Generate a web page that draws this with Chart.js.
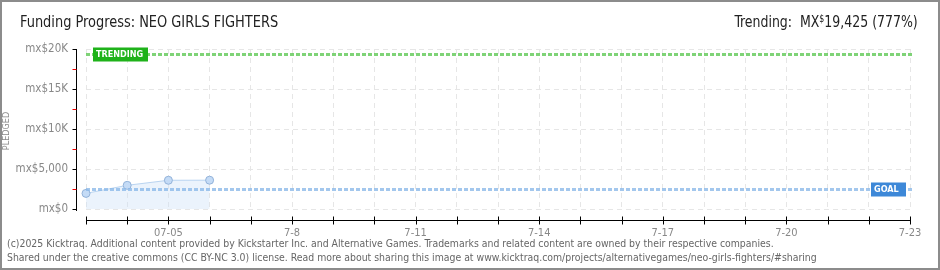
<!DOCTYPE html>
<html>
<head>
<meta charset="utf-8">
<script src="https://cdn.jsdelivr.net/npm/chart.js@4"></script>
<style>
  html, body { margin: 0; padding: 0; background: #fff; }
  #wrap { position: relative; width: 940px; height: 270px; }
  #title { position: absolute; left: 20px; top: 12px; font: 16px 'DejaVu Sans Condensed', 'DejaVu Sans', sans-serif; font-stretch: condensed; color: #222; white-space: nowrap; transform: scaleX(0.9); transform-origin: left top; }
  #trend { position: absolute; right: 22px; top: 12px; font: 16px 'DejaVu Sans Condensed', 'DejaVu Sans', sans-serif; font-stretch: condensed; color: #222; white-space: nowrap; transform: scaleX(0.87); transform-origin: right top; }
  #trend sup { font-size: 10px; vertical-align: 5px; }
  #foot { position: absolute; left: 7px; top: 236px; font: 10.4px 'DejaVu Sans Condensed', 'DejaVu Sans', sans-serif; font-stretch: condensed; color: #666; line-height: 14px; white-space: nowrap; }
</style>
</head>
<body>
<div id="wrap">
  <canvas id="myChart"></canvas>
  <div id="title">Funding Progress: NEO GIRLS FIGHTERS</div>
  <div id="trend">Trending:&nbsp; MX<sup>$</sup>19,425 (777%)</div>
  <div id="foot">(c)2025 Kicktraq. Additional content provided by Kickstarter Inc. and Alternative Games. Trademarks and related content are owned by their respective companies.<br>Shared under the creative commons (CC BY-NC 3.0) license. Read more about sharing this image at www.kicktraq.com/projects/alternativegames/neo-girls-fighters/#sharing</div>
</div>
<script>
// days shown on the x axis (7/3 .. 7/23)
const days = ['07-03', '07-04', '07-05', '07-06', '07-07', '07-08', '07-09', '07-10', '07-11', '07-12', '07-13',
  '07-14', '07-15', '07-16', '07-17', '07-18', '07-19', '07-20', '07-21', '07-22', '07-23'];
const dayLabels = ['', '', '07-05', '', '', '7-8', '', '', '7-11', '', '', '7-14', '', '', '7-17', '', '', '7-20', '', '', '7-23'];
const pledged = [1950, 2960, 3590, 3600];
const yTicks = [0, 5000, 10000, 15000, 20000];
const yTickLabels = ['mx$0', 'mx$5,000', 'mx$10K', 'mx$15K', 'mx$20K'];
const goal = 2500;
const trending = 19425;

const pixelFont = "'DejaVu Sans Condensed', 'DejaVu Sans', sans-serif";

const extras = {
  id: 'extras',
  beforeDraw(chart) {
    const c = chart.ctx;
    c.save();
    c.fillStyle = '#fff';
    c.fillRect(0, 0, chart.width, chart.height);
    c.restore();
  },
  afterDatasetsDraw(chart) {
    const c = chart.ctx;
    const a = chart.chartArea;
    const x = chart.scales.x, y = chart.scales.y;
    c.save();

    // reference lines
    function refLine(val, color) {
      const py = Math.round(y.getPixelForValue(val)) + 0.5;
      c.strokeStyle = color;
      c.lineWidth = 3;
      c.setLineDash([4, 2]);
      c.beginPath();
      c.moveTo(a.left, py);
      c.lineTo(a.right + 3, py);
      c.stroke();
      c.setLineDash([]);
      return py;
    }
    function tag(text, bx, py, w, color) {
      c.fillStyle = color;
      c.fillRect(bx, py - 7, w, 14);
      c.fillStyle = '#fff';
      c.font = 'bold 9px ' + pixelFont;
      c.textBaseline = 'middle';
      c.textAlign = 'left';
      c.fillText(text, bx + 3, py + 0.5);
    }
    const ty = refLine(trending, 'rgba(95,200,85,0.8)');
    tag('TRENDING', a.left + 7, ty, 55, '#1fb21a');
    const gy = refLine(goal, 'rgba(140,185,232,0.8)');
    tag('GOAL', a.right - 39, gy, 35, '#3d88d8');

    // y axis
    const ax = a.left - 10 + 0.5;
    c.strokeStyle = '#000';
    c.lineWidth = 1;
    c.beginPath();
    c.moveTo(ax, y.getPixelForValue(20000));
    c.lineTo(ax, y.getPixelForValue(0) + 2);
    c.stroke();
    for (let v = 0; v <= 20000; v += 2500) {
      const py = Math.round(y.getPixelForValue(v)) + 0.5;
      c.strokeStyle = v % 5000 === 0 ? '#000' : '#e00';
      c.beginPath();
      c.moveTo(ax - 4, py);
      c.lineTo(ax, py);
      c.stroke();
    }

    // x axis
    const bx = a.bottom + 11 + 0.5;
    c.strokeStyle = '#000';
    c.beginPath();
    c.moveTo(a.left, bx);
    c.lineTo(a.right, bx);
    c.stroke();
    days.forEach((d, i) => {
      const px = Math.round(x.getPixelForValue(i)) + 0.5;
      c.beginPath();
      c.moveTo(px, bx - 4);
      c.lineTo(px, bx + 4);
      c.stroke();
    });

    // PLEDGED label
    c.translate(7, (a.top + a.bottom) / 2 + 2);
    c.rotate(-Math.PI / 2);
    c.fillStyle = '#888';
    c.font = '9px ' + pixelFont;
    c.textAlign = 'center';
    c.textBaseline = 'middle';
    c.fillText('PLEDGED', 0, 0);
    c.restore();

    // border
    c.save();
    c.strokeStyle = '#8c8c8c';
    c.lineWidth = 2;
    c.strokeRect(1, 1, chart.width - 2, chart.height - 2);
    c.restore();
  }
};

const ctx = document.getElementById('myChart').getContext('2d');

new Chart(ctx, {
  type: 'line',
  data: {
    labels: days,
    datasets: [{
      label: 'Pledged',
      data: pledged,
      borderColor: '#b9d4f1',
      borderWidth: 1,
      backgroundColor: 'rgba(205,224,248,0.4)',
      fill: 'origin',
      tension: 0,
      pointRadius: 4,
      pointBackgroundColor: '#c4dbf6',
      pointBorderColor: '#93b3da',
      pointBorderWidth: 1
    }]
  },
  options: {
    responsive: true,
    maintainAspectRatio: false,
    animation: false,
    layout: { padding: { top: 49, right: 30, bottom: 30, left: 0 } },
    plugins: { legend: { display: false }, tooltip: { enabled: false } },
    scales: {
      x: {
        offset: false,
        afterFit(s) { s.height = 31; },
        grid: { color: '#e6e6e6', drawTicks: false },
        border: { display: false, dash: [5, 4] },
        ticks: {
          autoSkip: false,
          maxRotation: 0,
          padding: 18,
          color: '#888',
          font: { family: pixelFont, size: 11 },
          callback: function(value, index) { return dayLabels[index]; }
        }
      },
      y: {
        min: 0,
        max: 20000,
        afterFit(s) { s.width = 86; },
        afterBuildTicks(s) { s.ticks = yTicks.map(v => ({ value: v })); },
        grid: { color: '#e6e6e6', drawTicks: false },
        border: { display: false, dash: [5, 4] },
        ticks: {
          padding: 18,
          color: '#888',
          font: { family: pixelFont, size: 11.5 },
          callback: function(value) { return yTickLabels[yTicks.indexOf(value)]; }
        }
      }
    }
  },
  plugins: [extras]
});
</script>
</body>
</html>
